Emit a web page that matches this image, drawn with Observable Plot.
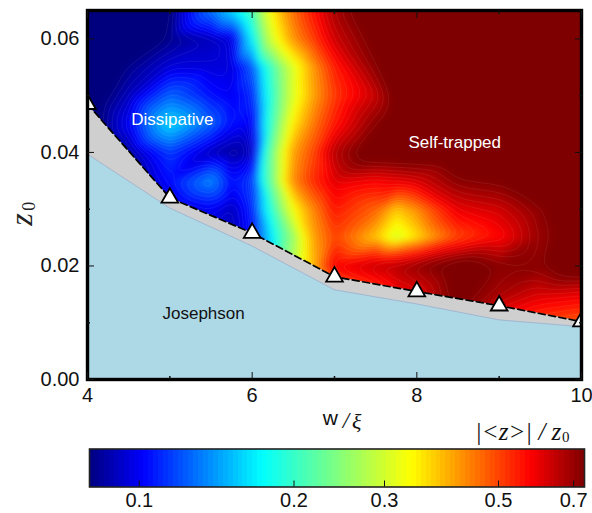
<!DOCTYPE html>
<html><head><meta charset="utf-8">
<script src="https://cdn.jsdelivr.net/npm/d3@7"></script>
<script src="https://cdn.jsdelivr.net/npm/@observablehq/plot@0.6"></script>
<style>
html,body{margin:0;padding:0;background:#fff;overflow:hidden}
svg{display:block;overflow:visible}
</style></head><body><div id="c"></div>
<script>
const xGrid=[4,4.5,5,5.5,5.75,6,6.25,6.5,6.75,7,7.5,7.75,8,8.5,9,9.5,10];
const yGrid=[.065,.06,.055,.05,.045,.04,.035,.03,.025,.02,.015,.01];
const heat=[
[.07,.07,.078,.13,.16,.21,.35,.46,.56,.68,.8,.8,.8,.8,.8,.8,.8],
[.07,.07,.082,.09,.095,.17,.31,.42,.51,.63,.76,.8,.8,.8,.8,.8,.8],
[.07,.082,.095,.095,.095,.122,.21,.31,.42,.54,.72,.78,.8,.8,.8,.8,.8],
[.07,.09,.125,.105,.10,.11,.20,.31,.41,.51,.64,.76,.8,.8,.8,.8,.8],
[.07,.10,.16,.125,.105,.10,.21,.35,.45,.55,.72,.78,.8,.8,.8,.8,.8],
[.07,.085,.115,.09,.085,.09,.24,.41,.50,.66,.8,.8,.8,.8,.8,.8,.8],
[.07,.08,.105,.135,.105,.115,.24,.43,.53,.61,.58,.60,.62,.72,.74,.8,.8],
[.07,.08,.09,.10,.09,.11,.20,.33,.44,.55,.47,.38,.43,.60,.63,.72,.8],
[.07,.08,.09,.095,.09,.105,.17,.26,.41,.50,.38,.30,.36,.50,.57,.70,.8],
[.07,.08,.09,.095,.09,.10,.16,.28,.40,.58,.64,.66,.70,.78,.72,.72,.8],
[.07,.08,.09,.095,.09,.10,.16,.28,.40,.42,.50,.58,.60,.76,.68,.62,.60],
[.07,.08,.09,.095,.09,.10,.16,.28,.40,.42,.50,.58,.60,.70,.55,.50,.47]
];
const sizes=[4,5,6,7,8,9,10];
const upper=[.0485,.032,.0258,.0181,.0155,.013,.0102];
const lower=[.0397,.0302,.0235,.0158,.0133,.0105,.0093];
const jetStops=[0,.11,.35,.65,.89,1];
const jetColors=["#00007f","#0000ff","#00ffff","#ffff00","#ff0000","#7f0000"];
const colorDomain=[.08,.735];
const jetScale=d3.scaleLinear().domain(jetStops).range(jetColors).clamp(true);
const jet=t=>jetScale(t);

const cells=yGrid.flatMap((y,j)=>xGrid.map((x,i)=>({x,y,v:heat[j][i]})));
const bounds=sizes.map((x,i)=>({x,up:upper[i],lo:lower[i]}));
const sans="'Liberation Sans',Helvetica,Arial,sans-serif";
const serif="'Liberation Serif','Times New Roman',serif";
const colorScale={type:"log",domain:colorDomain,clamp:true,interpolate:()=>jet};
const contourLevels=d3.range(0,60).map(i=>colorDomain[0]*Math.pow(colorDomain[1]/colorDomain[0],(i+.5)/60));

const regionLabels=[
 {x:5.03,y:.0458,t:"Dissipative",c:"#fff"},
 {x:8.46,y:.0417,t:"Self-trapped",c:"#fff"},
 {x:5.41,y:.0116,t:"Josephson",c:"#111"}
];

const main=Plot.plot({
 width:592,height:447,marginLeft:87,marginRight:11,marginTop:10,marginBottom:68,
 style:{fontFamily:sans,fontSize:"20px",color:"#111",background:"transparent"},
 x:{domain:[4,10]},y:{domain:[0,.065]},color:colorScale,
 marks:[
  Plot.raster(cells,{x:"x",y:"y",fill:"v",interpolate:"barycentric",blur:3}),
  Plot.contour(cells,{x:"x",y:"y",value:"v",interpolate:"barycentric",blur:3,thresholds:contourLevels,stroke:"#fff",strokeOpacity:.14,strokeWidth:.5,fill:"none",clip:true}),
  Plot.areaY(bounds,{x:"x",y1:0,y2:"up",fill:"#cfcfcf"}),
  Plot.areaY(bounds,{x:"x",y1:0,y2:"lo",fill:"#add8e6"}),
  Plot.line(bounds,{x:"x",y:"lo",stroke:"#9a9fc0",strokeWidth:.6}),
  Plot.line(bounds,{x:"x",y:"up",stroke:"#000",strokeWidth:1.7,strokeDasharray:"7,3.5"}),
  Plot.dot(bounds,{x:"x",y:"up",symbol:"triangle",r:6.2,fill:"#fff",stroke:"#000",strokeWidth:1.8,clip:true}),
  Plot.text(regionLabels,{x:"x",y:"y",text:"t",fill:"c",fontSize:17,fontFamily:sans}),
  Plot.frame({stroke:"#000",strokeWidth:3.4}),
  Plot.axisX({ticks:[4,6,8,10],tickSize:-7,tickPadding:15,label:null,tickFormat:d=>d,fontSize:20}),
  Plot.axisX({ticks:[5,7,9],tickSize:-3,tickFormat:()=>"",label:null,strokeWidth:1.5}),
  Plot.axisX({anchor:"top",ticks:[4,6,8,10],tickSize:-7,tickFormat:()=>"",label:null}),
  Plot.axisX({anchor:"top",ticks:[5,7,9],tickSize:-3,tickFormat:()=>"",label:null,strokeWidth:1.5}),
  Plot.axisY({ticks:[0,.02,.04,.06],tickSize:-7,tickPadding:15,label:null,tickFormat:d3.format(".2f"),fontSize:20}),
  Plot.axisY({ticks:[.01,.03,.05],tickSize:-3,tickFormat:()=>"",label:null,strokeWidth:1.5}),
  Plot.axisY({anchor:"right",ticks:[0,.02,.04,.06],tickSize:-7,tickFormat:()=>"",label:null}),
  Plot.axisY({anchor:"right",ticks:[.01,.03,.05],tickSize:-3,tickFormat:()=>"",label:null,strokeWidth:1.5}),
  Plot.text(["z"],{x:[3.2],y:[.0282],rotate:-90,fontSize:32,fontStyle:"italic",fontFamily:serif,fill:"#222"}),
  Plot.text(["0"],{x:[3.29],y:[.0305],rotate:-90,fontSize:18,fontFamily:serif,fill:"#222"}),
  Plot.text(["w"],{x:[6.95],y:[-.0069],fontSize:21,fontFamily:sans,fill:"#111"}),
  Plot.text(["/"],{x:[7.14],y:[-.0073],fontSize:23,fontStyle:"italic",fontFamily:serif,fill:"#111"}),
  Plot.text(["ξ"],{x:[7.27],y:[-.0075],fontSize:22,fontStyle:"italic",fontFamily:serif,fill:"#111"}),
  Plot.text(["|<z>| / z"],{x:[9.23],y:[-.0092],fontSize:25,fontStyle:"italic",fontFamily:serif,fill:"#111"}),
  Plot.text(["0"],{x:[9.81],y:[-.0102],fontSize:15,fontFamily:serif,fill:"#111"})
 ]
});

const steps=d3.range(100).map(i=>({
 x1:colorDomain[0]*Math.pow(colorDomain[1]/colorDomain[0],i/100),
 x2:colorDomain[0]*Math.pow(colorDomain[1]/colorDomain[0],(i+1)/100)
}));
steps.forEach(d=>d.v=Math.sqrt(d.x1*d.x2));
const barTicks=[.1,.2,.3,.5,.7];
const bar=Plot.plot({
 width:592,height:66,marginLeft:89,marginRight:8,marginTop:1.5,marginBottom:26.5,
 style:{fontFamily:sans,fontSize:"20px",color:"#111",background:"transparent"},
 x:{type:"log",domain:colorDomain},y:{domain:[0,1],axis:null},color:colorScale,
 marks:[
  Plot.rect(steps,{x1:"x1",x2:"x2",y1:0,y2:1,fill:"v",shapeRendering:"crispEdges"}),
  Plot.frame({stroke:"#222",strokeWidth:1.6}),
  Plot.axisX({ticks:barTicks,tickSize:-6,tickPadding:12,label:null,tickFormat:d=>d,fontSize:20})
 ]
});
document.getElementById("c").append(main,bar);
</script></body></html>
